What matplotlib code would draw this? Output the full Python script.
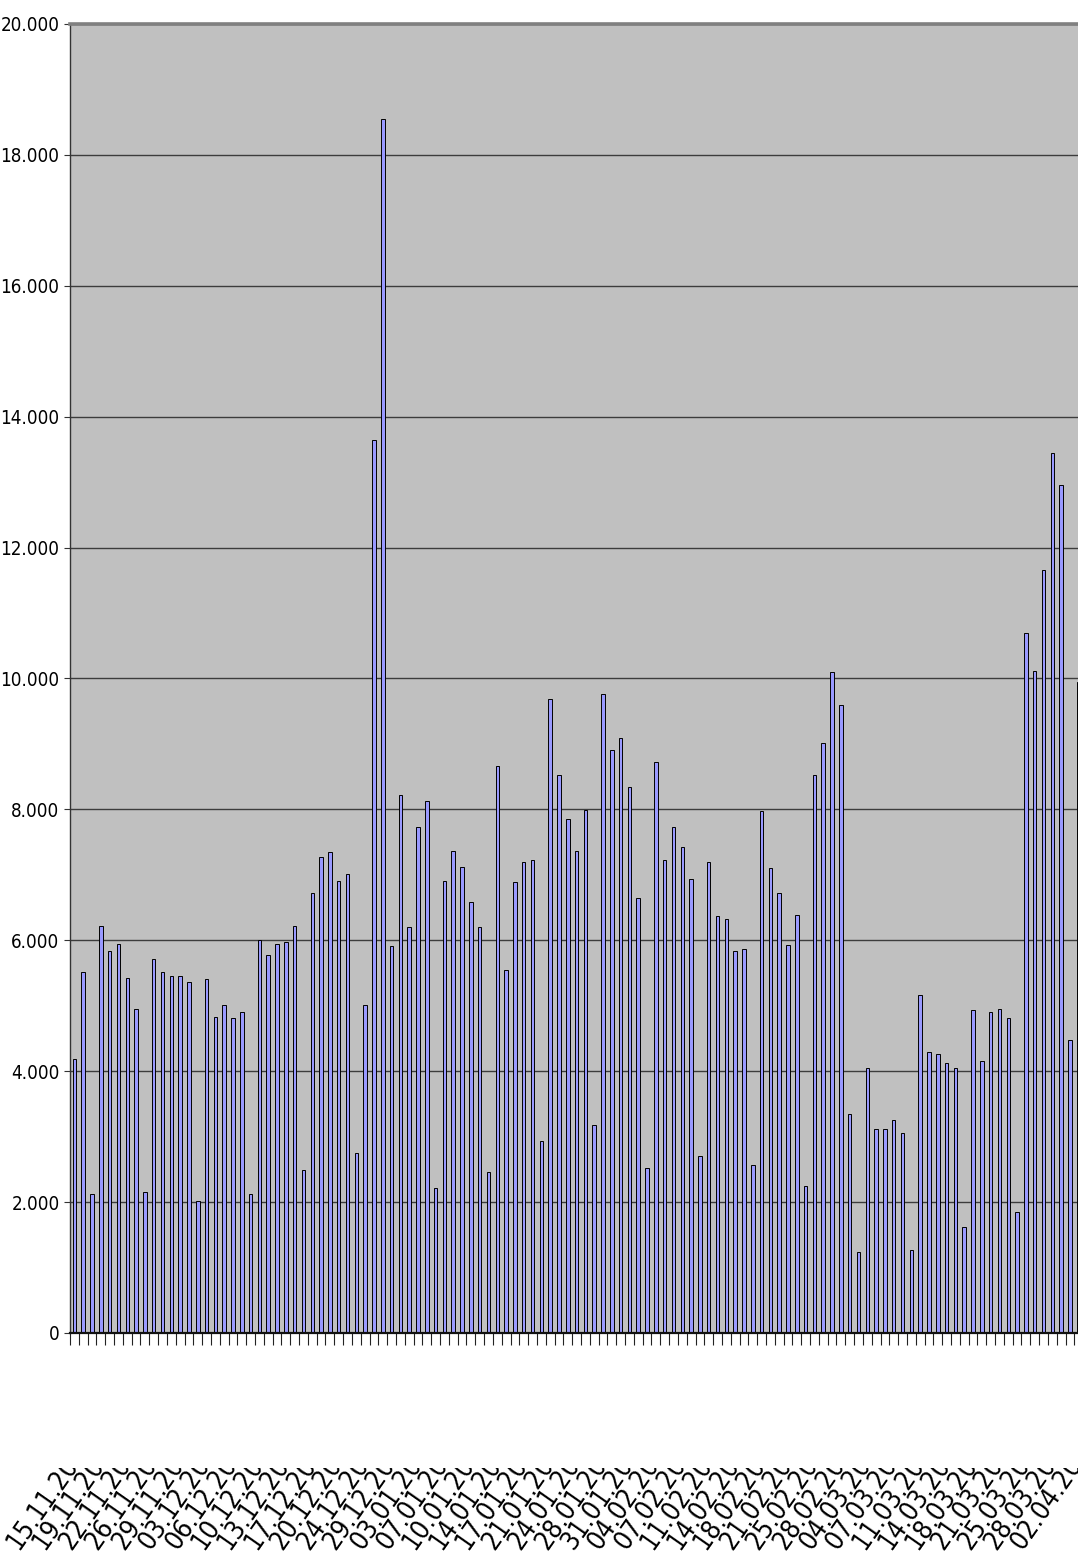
#!/usr/bin/env python
"""Daily counts, 15.11.2012 - 02.04.2013, Excel-style column chart."""
import matplotlib

matplotlib.use("Agg")

import matplotlib.pyplot as plt
import matplotlib.transforms as mtransforms
import numpy as np
from matplotlib import font_manager
from matplotlib.ticker import FixedLocator, FuncFormatter

W_PX, H_PX = 1078, 1553
DPI = 100

PLOT_BG = "#c0c0c0"
BAR_FILL = "#9999ff"
GRID = "#3c3c3c"
TOP_EDGE = "#808080"

# one value per working day (Mon-Sat, holidays left out)
VALUES = [
    4180, 5520, 2130, 6220, 5840, 5940, 5420, 4950, 2150, 5710,
    5510, 5460, 5450, 5370, 2010, 5410, 4830, 5010, 4810, 4900,
    2130, 6000, 5780, 5950, 5980, 6220, 2490, 6720, 7280, 7350,
    6900, 7020, 2750, 5010, 13650, 18550, 5920, 8220, 6210, 7730,
    8130, 2210, 6900, 7360, 7120, 6580, 6200, 2460, 8660, 5540,
    6890, 7200, 7220, 2940, 9680, 8530, 7850, 7360, 7990, 3180,
    9770, 8900, 9090, 8340, 6640, 2520, 8730, 7220, 7730, 7420,
    6930, 2700, 7200, 6370, 6320, 5830, 5870, 2570, 7970, 7100,
    6720, 5930, 6380, 2240, 8520, 9020, 10100, 9600, 3350, 1230,
    4050, 3110, 3110, 3250, 3060, 1270, 5160, 4290, 4260, 4120,
    4050, 1620, 4940, 4150, 4900, 4950, 4820, 1850, 10700, 10110,
    11660, 13440, 12950, 4470, 9950,
]

# category labels shown on the axis (every third day)
DATE_LABELS = [
    "15.11.2012", "19.11.2012", "22.11.2012", "26.11.2012", "29.11.2012",
    "03.12.2012", "06.12.2012", "10.12.2012", "13.12.2012", "17.12.2012",
    "20.12.2012", "24.12.2012", "29.12.2012", "03.01.2013", "07.01.2013",
    "10.01.2013", "14.01.2013", "17.01.2013", "21.01.2013", "24.01.2013",
    "28.01.2013", "31.01.2013", "04.02.2013", "07.02.2013", "11.02.2013",
    "14.02.2013", "18.02.2013", "21.02.2013", "25.02.2013", "28.02.2013",
    "04.03.2013", "07.03.2013", "11.03.2013", "14.03.2013", "18.03.2013",
    "21.03.2013", "25.03.2013", "28.03.2013", "02.04.2013",
]
LABEL_STEP = 3

Y_TICKS = [0, 2000, 4000, 6000, 8000, 10000, 12000, 14000, 16000, 18000, 20000]


def pick_font():
    names = {f.name for f in font_manager.fontManager.ttflist}
    if "Liberation Sans Narrow" in names:
        return {"family": "Liberation Sans Narrow"}, 16, 23
    return {"family": "DejaVu Sans", "stretch": "condensed"}, 13.5, 19


def thousands(v, _pos=None):
    return "{:,.0f}".format(v).replace(",", ".")


def draw():
    font, ytick_size, xlab_size = pick_font()
    fig = plt.figure(figsize=(W_PX / DPI, H_PX / DPI), dpi=DPI)
    fig.patch.set_facecolor("white")

    n = len(VALUES)
    cat_px = 8.81
    left, top, bottom = 70, 24, 1333
    ax = fig.add_axes([
        left / W_PX,
        (H_PX - bottom) / H_PX,
        n * cat_px / W_PX,
        (bottom - top) / H_PX,
    ])
    ax.set_facecolor(PLOT_BG)

    x = np.arange(n)
    ax.bar(x, VALUES, width=0.4, color=BAR_FILL, edgecolor="black",
           linewidth=0.7, zorder=3)

    ax.set_xlim(-0.5, n - 0.5)
    ax.set_ylim(0, 20000)

    # y axis
    ax.yaxis.set_major_locator(FixedLocator(Y_TICKS))
    ax.yaxis.set_major_formatter(FuncFormatter(thousands))
    ax.grid(axis="y", color=GRID, lw=1.0, zorder=1)
    ax.tick_params(axis="y", direction="out", length=4.5, width=0.8,
                   color="#333333", pad=3, labelsize=ytick_size)
    for lab in ax.get_yticklabels():
        lab.set_fontfamily(font["family"])
        if "stretch" in font:
            lab.set_fontstretch(font["stretch"])

    # x axis: ticks between categories, labels drawn separately
    ax.set_xticks([])
    ax.xaxis.set_minor_locator(FixedLocator(np.arange(n + 1) - 0.5))
    ax.tick_params(axis="x", which="minor", direction="out", length=8.5,
                   width=0.8, color="#222222")

    ax.spines["right"].set_visible(False)
    ax.spines["top"].set_color(TOP_EDGE)
    ax.spines["top"].set_linewidth(2.6)
    ax.spines["left"].set_color("#333333")
    ax.spines["left"].set_linewidth(1.0)
    ax.spines["bottom"].set_color("#111111")
    ax.spines["bottom"].set_linewidth(1.6)
    ax.spines["bottom"].set_zorder(4)

    # rotated date labels, cut off at the top of the label band
    trans = mtransforms.blended_transform_factory(ax.transData, fig.transFigure)
    trans = trans + mtransforms.ScaledTranslation(-56 / DPI, 0, fig.dpi_scale_trans)
    clip = mtransforms.TransformedBbox(
        mtransforms.Bbox.from_extents(0, 0, 1, 85 / H_PX), fig.transFigure
    )
    for k, label in enumerate(DATE_LABELS):
        t = fig.text(k * LABEL_STEP, 2 / H_PX, label, transform=trans,
                     rotation=55, rotation_mode="anchor", ha="left",
                     va="baseline", fontsize=xlab_size, color="black", **font)
        t.set_clip_box(clip)
        t.set_clip_on(True)

    return fig


def main():
    fig = draw()
    fig.savefig("out.png", dpi=DPI)
    plt.close(fig)


if __name__ == "__main__":
    main()
